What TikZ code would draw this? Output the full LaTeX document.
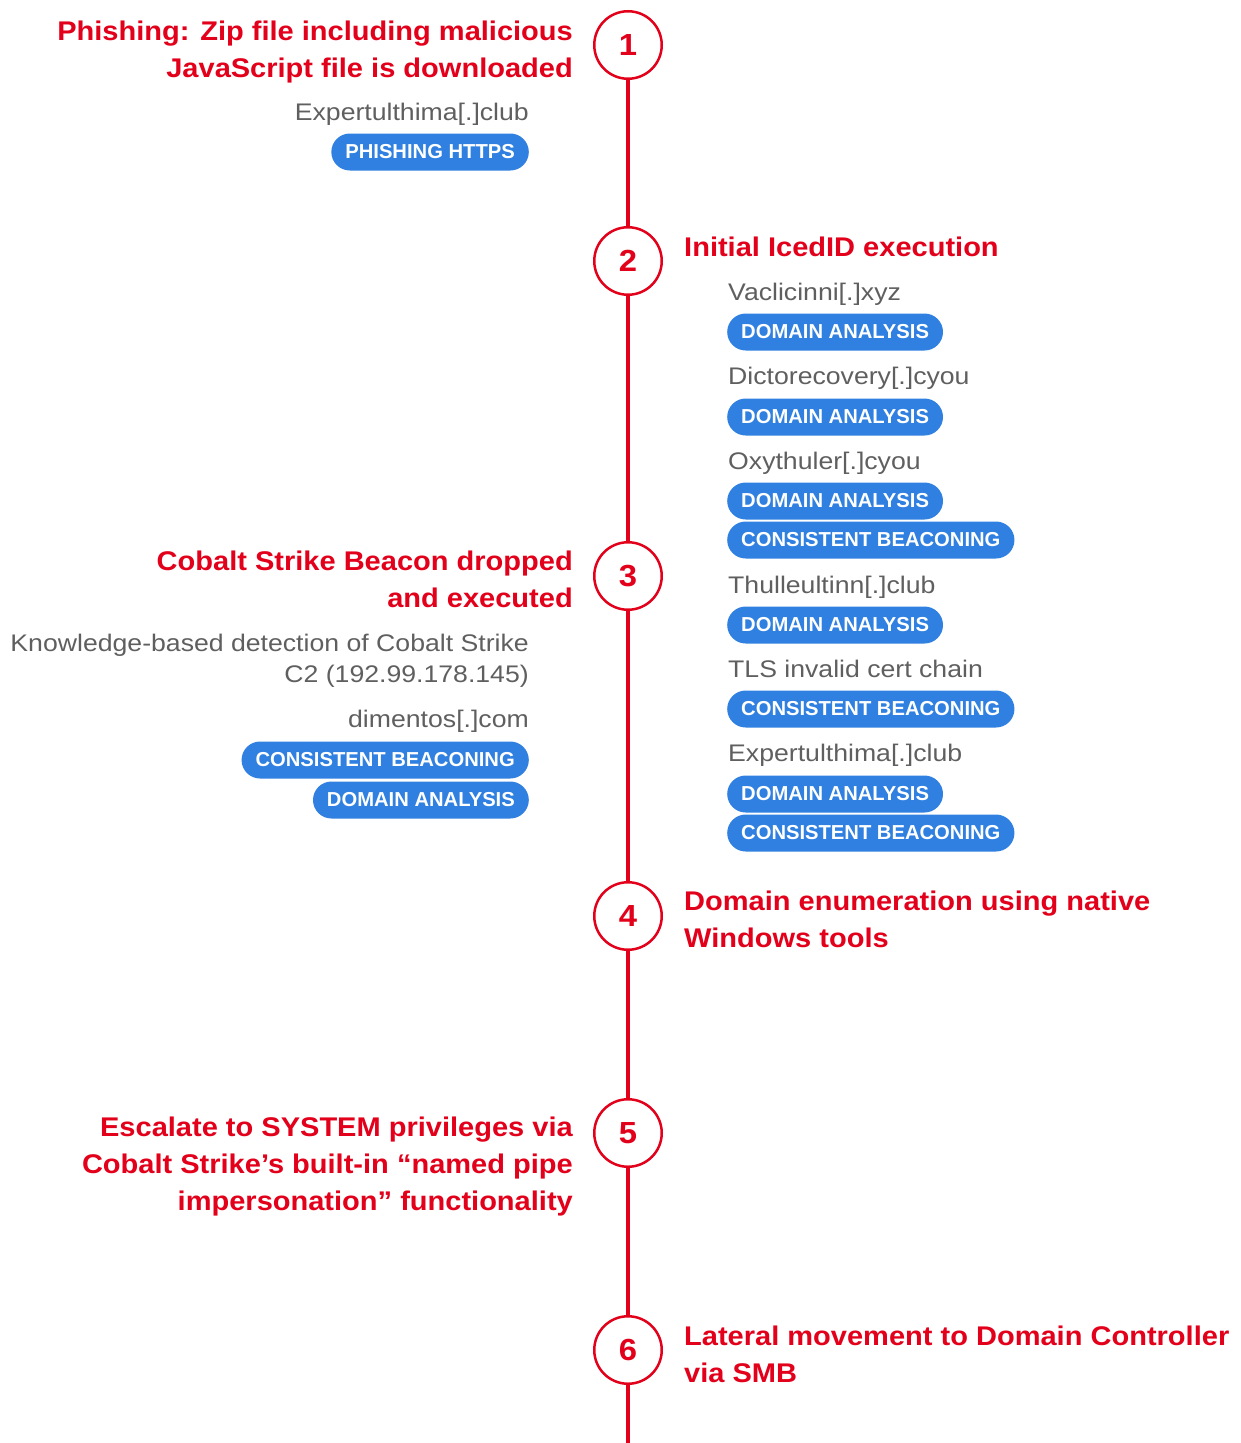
\documentclass[tikz,border=0pt]{standalone}
\usepackage{fontspec}
\setmainfont{Liberation Sans}
\newfontfamily\titlefont[FakeStretch=1.075]{Liberation Sans}
\newfontfamily\iocfont[FakeStretch=1.11]{Liberation Sans}
\usepackage{tikz}
\usetikzlibrary{positioning}
\definecolor{alertred}{HTML}{E2001A}
\definecolor{tagblue}{HTML}{2F80E0}
\definecolor{iocgray}{HTML}{5F5F5F}

\begin{document}
\begin{tikzpicture}[
  x=1pt, y=-1pt,
  stage/.style = {draw=alertred, line width=2.5pt, fill=white, circle, minimum size=67.5pt, inner sep=0pt,
    text=alertred, font=\titlefont\fontsize{30.5}{30.5}\selectfont\bfseries},
  spine/.style = {draw=alertred, line width=3.5pt},
  title/.style = {text=alertred, font=\titlefont\fontsize{27}{37}\selectfont\bfseries, inner sep=0pt},
  ioc/.style = {text=iocgray, font=\iocfont\fontsize{24}{31}\selectfont, inner sep=0pt},
  tag/.style = {fill=tagblue, text=white, font=\fontsize{20.2}{20.2}\selectfont\bfseries,
    rounded corners=18.5pt, minimum height=37pt, inner xsep=14pt, inner ysep=0pt}
  ]
	\useasboundingbox (0,0) rectangle (1241,1443);

	\coordinate (@1) at (628,45);
	\coordinate (@2) at (628,261);
	\coordinate (@3) at (628,576);
	\coordinate (@4) at (628,916);
	\coordinate (@5) at (628,1133);
	\coordinate (@6) at (628,1350);
	\coordinate (bottom) at (628,1443);

	\node[stage] (c1) at (@1) {1};
	\node[stage] (c2) at (@2) {2};
	\node[stage] (c3) at (@3) {3};
	\node[stage] (c4) at (@4) {4};
	\node[stage] (c5) at (@5) {5};
	\node[stage] (c6) at (@6) {6};

	\draw[spine] (c1) -- (c2);
	\draw[spine] (c2) -- (c3);
	\draw[spine] (c3) -- (c4);
	\draw[spine] (c4) -- (c5);
	\draw[spine] (c5) -- (c6);
	\draw[spine] (c6) -- (bottom);

	% step 1
	\node[title, anchor=base east, align=right] (t1) at (573,77) {Phishing: Zip file including malicious\\JavaScript file is downloaded};
	\node[ioc, anchor=base east] (i1) at (529,120) {Expertulthima[.]club};
	\node[tag, anchor=east] (g1) at (529,152) {PHISHING HTTPS};

	% step 2
	\node[title, anchor=base west] (t2) at (684,256) {Initial IcedID execution};
	\node[ioc, anchor=base west] (i2a) at (728,300) {Vaclicinni[.]xyz};
	\node[tag, anchor=west] (g2a) at (727,332) {DOMAIN ANALYSIS};
	\node[ioc, anchor=base west] (i2b) at (728,384) {Dictorecovery[.]cyou};
	\node[tag, anchor=west] (g2b) at (727,417) {DOMAIN ANALYSIS};
	\node[ioc, anchor=base west] (i2c) at (728,469) {Oxythuler[.]cyou};
	\node[tag, anchor=west] (g2c) at (727,501) {DOMAIN ANALYSIS};
	\node[tag, anchor=west] (g2d) at (727,540) {CONSISTENT BEACONING};
	\node[ioc, anchor=base west] (i2d) at (728,593) {Thulleultinn[.]club};
	\node[tag, anchor=west] (g2e) at (727,625) {DOMAIN ANALYSIS};
	\node[ioc, anchor=base west] (i2e) at (728,677) {TLS invalid cert chain};
	\node[tag, anchor=west] (g2f) at (727,709) {CONSISTENT BEACONING};
	\node[ioc, anchor=base west] (i2f) at (728,761) {Expertulthima[.]club};
	\node[tag, anchor=west] (g2g) at (727,794) {DOMAIN ANALYSIS};
	\node[tag, anchor=west] (g2h) at (727,833) {CONSISTENT BEACONING};

	% step 3
	\node[title, anchor=base east, align=right] (t3) at (573,607) {Cobalt Strike Beacon dropped\\and executed};
	\node[ioc, anchor=base east, align=right] (i3a) at (529,682) {Knowledge-based detection of Cobalt Strike\\C2 (192.99.178.145)};
	\node[ioc, anchor=base east] (i3b) at (529,727) {dimentos[.]com};
	\node[tag, anchor=east] (g3a) at (529,760) {CONSISTENT BEACONING};
	\node[tag, anchor=east] (g3b) at (529,800) {DOMAIN ANALYSIS};

	% step 4
	\node[title, anchor=base west, align=left] (t4) at (684,947) {Domain enumeration using native\\Windows tools};

	% step 5
	\node[title, anchor=base east, align=right] (t5) at (573,1210) {Escalate to SYSTEM privileges via\\Cobalt Strike’s built-in “named pipe\\impersonation” functionality};

	% step 6
	\node[title, anchor=base west, align=left] (t6) at (684,1382) {Lateral movement to Domain Controller\\via SMB};

\end{tikzpicture}
\end{document}
